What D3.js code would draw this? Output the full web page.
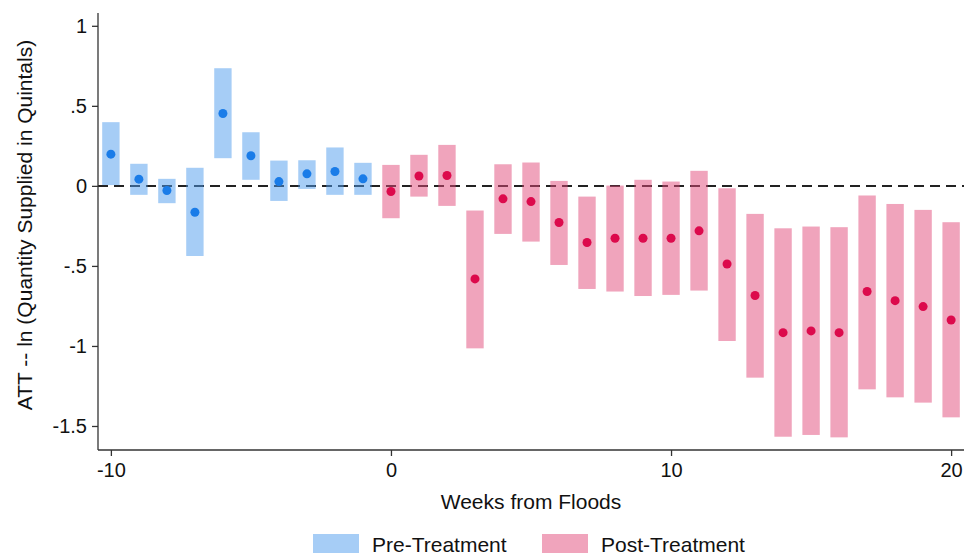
<!DOCTYPE html>
<html>
<head>
<meta charset="utf-8">
<script src="https://cdn.jsdelivr.net/npm/d3@7"></script>
<style>
  body { margin: 0; background: #fff; }
  svg { display: block; font-family: "Liberation Sans", Arial, sans-serif; }
</style>
</head>
<body>
<div id="chart"></div>
<script>
// weeks relative to the floods
const weeks = [-10, -9, -8, -7, -6, -5, -4, -3, -2, -1,
  0, 1, 2, 3, 4, 5, 6, 7, 8, 9, 10, 11, 12, 13, 14, 15, 16, 17, 18, 19, 20];
// point estimates
const att = [0.198, 0.042, -0.029, -0.165, 0.452, 0.188, 0.027, 0.075, 0.09, 0.044,
  -0.035, 0.062, 0.065, -0.581, -0.081, -0.098, -0.229, -0.354, -0.327, -0.327, -0.327,
  -0.281, -0.488, -0.685, -0.917, -0.906, -0.917, -0.66, -0.717, -0.754, -0.838];
// confidence interval bounds
const upper = [0.398, 0.138, 0.044, 0.113, 0.735, 0.335, 0.158, 0.16, 0.24, 0.144,
  0.131, 0.194, 0.256, -0.154, 0.135, 0.146, 0.031, -0.067, 0.002, 0.038, 0.027,
  0.094, -0.015, -0.175, -0.265, -0.254, -0.258, -0.06, -0.113, -0.15, -0.227];
const lower = [0.005, -0.056, -0.108, -0.438, 0.173, 0.038, -0.094, -0.019, -0.056, -0.056,
  -0.202, -0.067, -0.125, -1.015, -0.3, -0.348, -0.494, -0.644, -0.66, -0.688, -0.681,
  -0.654, -0.969, -1.198, -1.567, -1.556, -1.571, -1.271, -1.321, -1.354, -1.446];

const yTicks = [1, 0.5, 0, -0.5, -1, -1.5];
const xTicks = [-10, 0, 10, 20];
const groups = ['Pre-Treatment', 'Post-Treatment'];

const data = weeks.map((w, i) => ({
  week: w, att: att[i], hi: upper[i], lo: lower[i],
  group: w < 0 ? groups[0] : groups[1]
}));

const width = 964, height = 555;
const margin = { top: 13, right: 0, bottom: 105, left: 98 };

const svg = d3.select('#chart').append('svg')
  .attr('width', width)
  .attr('height', height);

const x = d3.scaleLinear()
  .domain([-10.46, 20.46])
  .range([margin.left, width - margin.right]);
const y = d3.scaleLinear()
  .domain([-1.65, 1.08])
  .range([height - margin.bottom, margin.top]);

const barColor = d3.scaleOrdinal().domain(groups).range(['#4d9bee', '#e14a7a']);
const dotColor = d3.scaleOrdinal().domain(groups).range(['#1a7ce8', '#dc0a4c']);

// reference line at zero
svg.append('line')
  .attr('x1', margin.left).attr('x2', width)
  .attr('y1', y(0)).attr('y2', y(0))
  .attr('stroke', '#222')
  .attr('stroke-width', 2)
  .attr('stroke-dasharray', '10,6');

// confidence bars
const barW = x(0.62) - x(0);
svg.append('g').selectAll('rect')
  .data(data)
  .join('rect')
  .attr('x', d => x(d.week) - barW / 2)
  .attr('width', barW)
  .attr('y', d => y(d.hi))
  .attr('height', d => y(d.lo) - y(d.hi))
  .attr('fill', d => barColor(d.group))
  .attr('fill-opacity', 0.5);

// point estimates
svg.append('g').selectAll('circle')
  .data(data)
  .join('circle')
  .attr('cx', d => x(d.week))
  .attr('cy', d => y(d.att))
  .attr('r', 4.5)
  .attr('fill', d => dotColor(d.group));

// axes (stata style labels: hyphen minus, no leading zero)
const fmt = v => String(v).replace('0.', '.');
const yAxis = svg.append('g')
  .attr('transform', `translate(${margin.left},0)`)
  .call(d3.axisLeft(y).tickValues(yTicks).tickFormat(fmt).tickSize(6).tickPadding(5));
const xAxis = svg.append('g')
  .attr('transform', `translate(0,${height - margin.bottom})`)
  .call(d3.axisBottom(x).tickValues(xTicks).tickFormat(fmt).tickSize(6).tickPadding(7));

[yAxis, xAxis].forEach(a => {
  a.select('.domain').attr('stroke', '#333').attr('stroke-width', 1.3);
  a.selectAll('.tick line').attr('stroke', '#333').attr('stroke-width', 1.3);
  a.selectAll('.tick text').attr('fill', '#111').style('font-size', '20px');
});
xAxis.select('.domain').attr('d', `M${margin.left},0H${width}`);
yAxis.select('.domain').attr('d', `M0,${margin.top}V${height - margin.bottom}`);

// axis titles
svg.append('text')
  .attr('x', 531)
  .attr('y', 509)
  .attr('text-anchor', 'middle')
  .style('font-size', '21px')
  .attr('fill', '#111')
  .text('Weeks from Floods');

svg.append('text')
  .attr('transform', `translate(32,${225}) rotate(-90)`)
  .attr('text-anchor', 'middle')
  .style('font-size', '21px')
  .attr('fill', '#111')
  .text('ATT -- ln (Quantity Supplied in Quintals)');

// legend
const legend = svg.append('g').selectAll('g')
  .data(groups)
  .join('g')
  .attr('transform', (d, i) => `translate(${313 + i * 229},534)`);
legend.append('rect')
  .attr('width', 46).attr('height', 19)
  .attr('fill', d => barColor(d))
  .attr('fill-opacity', 0.5);
legend.append('text')
  .attr('x', 59).attr('y', 18)
  .style('font-size', '21px')
  .attr('fill', '#111')
  .text(d => d);
</script>
</body>
</html>
